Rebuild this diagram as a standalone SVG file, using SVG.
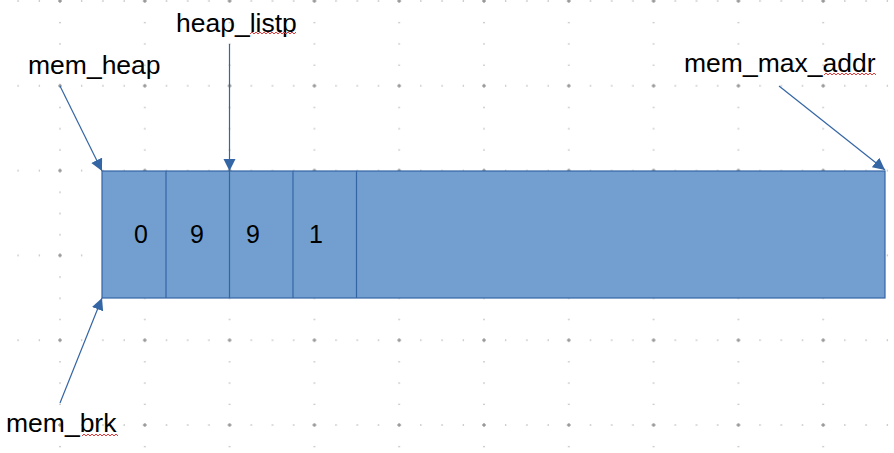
<svg xmlns="http://www.w3.org/2000/svg" width="894" height="453" viewBox="0 0 894 453">
<style>
.lbl{font-family:"Liberation Sans",Arial,sans-serif;font-size:26.5px;fill:#000}
.num{font-family:"Liberation Sans",Arial,sans-serif;font-size:25px;fill:#000;text-anchor:middle}
.cell{fill:#729fcf;stroke:#3465a4;stroke-width:1.2}
.conn{stroke:#3465a4;stroke-width:1.2;fill:none}
.wave{stroke:#e8383a;stroke-width:1;fill:none}
</style>
<defs>
<pattern id="grid" patternUnits="userSpaceOnUse" x="58" y="-1" width="84.8" height="84.8">
<g fill="#777">
<rect x="0" y="1.5" width="4" height="1"/>
<rect x="1.5" y="0" width="1" height="4"/>
<rect x="23.2" y="1.5" width="1" height="1"/>
<rect x="44.4" y="1.5" width="1" height="1"/>
<rect x="65.6" y="1.5" width="1" height="1"/>
<rect x="1.5" y="23.2" width="1" height="1"/>
<rect x="1.5" y="44.4" width="1" height="1"/>
<rect x="1.5" y="65.6" width="1" height="1"/>
</g>
</pattern>
<marker id="arr" markerUnits="userSpaceOnUse" markerWidth="14" markerHeight="13" refX="12" refY="6" orient="auto" viewBox="0 0 14 13">
<path d="M0,0 L12,6 L0,12 Z" fill="#3465a4"/>
</marker>
</defs>
<rect width="894" height="453" fill="#fff"/>
<rect width="894" height="453" fill="url(#grid)"/>

<g id="heap">
<rect class="cell" x="102" y="171" width="783" height="127"/>
<line class="conn" x1="166" y1="171" x2="166" y2="298"/>
<line class="conn" x1="229.5" y1="171" x2="229.5" y2="298"/>
<line class="conn" x1="293" y1="171" x2="293" y2="298"/>
<line class="conn" x1="356.5" y1="171" x2="356.5" y2="298"/>
<text class="num" x="141" y="243">0</text>
<text class="num" x="197" y="243">9</text>
<text class="num" x="253" y="243">9</text>
<text class="num" x="316" y="243">1</text>
</g>

<g id="label-mem_heap"><text class="lbl" x="28" y="74">mem_heap</text></g>
<g id="label-heap_listp">
<text class="lbl" x="176" y="32">heap_listp</text>
<path class="wave" d="M250,34 l2,-2 l2,2 l2,-2 l2,2 l2,-2 l2,2 l2,-2 l2,2 l2,-2 l2,2 l2,-2 l2,2 l2,-2 l2,2 l2,-2 l2,2 l2,-2 l2,2 l2,-2 l2,2 l2,-2 l2,2 l2,-2"/>
</g>
<g id="label-mem_max_addr">
<text class="lbl" x="684" y="72">mem_max_addr</text>
<path class="wave" d="M824,75 l2,-2 l2,2 l2,-2 l2,2 l2,-2 l2,2 l2,-2 l2,2 l2,-2 l2,2 l2,-2 l2,2 l2,-2 l2,2 l2,-2 l2,2 l2,-2 l2,2 l2,-2 l2,2 l2,-2 l2,2 l2,-2 l2,2 l2,-2 l2,2"/>
</g>
<g id="label-mem_brk">
<text class="lbl" x="6" y="432">mem_brk</text>
<path class="wave" d="M82,436 l2,-2 l2,2 l2,-2 l2,2 l2,-2 l2,2 l2,-2 l2,2 l2,-2 l2,2 l2,-2 l2,2 l2,-2 l2,2 l2,-2 l2,2 l2,-2 l2,2"/>
</g>

<g id="connectors">
<line class="conn" x1="60" y1="86" x2="102" y2="171" marker-end="url(#arr)"/>
<line class="conn" x1="229.5" y1="44" x2="229.5" y2="171" marker-end="url(#arr)"/>
<line class="conn" x1="779" y1="86" x2="885" y2="170" marker-end="url(#arr)"/>
<line class="conn" x1="60" y1="403" x2="102" y2="298" marker-end="url(#arr)"/>
</g>
</svg>
